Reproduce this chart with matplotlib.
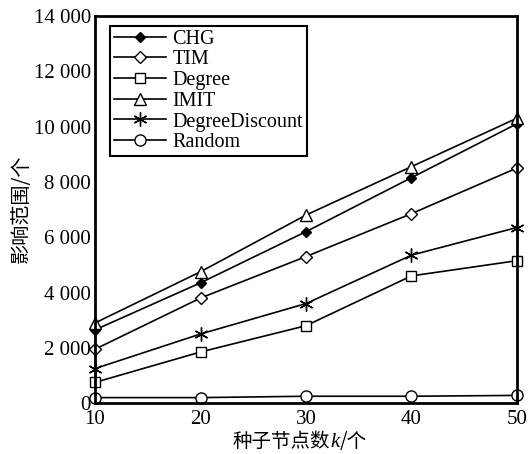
import matplotlib
matplotlib.use('Agg')
from matplotlib import pyplot as plt
from matplotlib.offsetbox import TextArea, HPacker, AnchoredOffsetbox

# data
k_values = [10, 20, 30, 40, 50]
chg = [2650, 4350, 6200, 8150, 10100]
tim = [1950, 3800, 5300, 6850, 8500]
degree = [750, 1850, 2800, 4600, 5150]
imit = [2900, 4750, 6800, 8550, 10300]
degree_discount = [1250, 2500, 3600, 5350, 6350]
random_sel = [200, 200, 250, 250, 280]

y_ticks = [0, 2000, 4000, 6000, 8000, 10000, 12000, 14000]
y_tick_labels = ['0', '2 000', '4 000', '6 000', '8 000', '10 000', '12 000', '14 000']

serif = ['Liberation Serif', 'DejaVu Serif']
cjk = ['Noto Sans CJK SC', 'DejaVu Sans']

fig = plt.figure(figsize=(5.28, 4.54), dpi=100)
ax = fig.add_axes([0.18, 0.112, 0.799, 0.853])

series = [
    ('CHG', chg, dict(marker='D', markersize=5, markerfacecolor='black')),
    ('TIM', tim, dict(marker='D', markersize=6, markerfacecolor='white')),
    ('Degree', degree, dict(marker='s', markersize=7, markerfacecolor='white')),
    ('IMIT', imit, dict(marker='^', markersize=9, markerfacecolor='white')),
    ('DegreeDiscount', degree_discount, dict(marker=(6, 2, 0), markersize=10)),
    ('Random', random_sel, dict(marker='o', markersize=8, markerfacecolor='white')),
]
for name, vals, style in series:
    ax.plot(k_values, vals, color='black', linewidth=1.2, markeredgecolor='black',
            markeredgewidth=1.0, label=name, clip_on=False, **style)

ax.set_xlim(10, 50)
ax.set_ylim(0, 14000)
ax.set_xticks(k_values)
ax.set_xticklabels([str(v) for v in k_values], fontfamily=serif, fontsize=15)
ax.set_yticks(y_ticks)
ax.set_yticklabels(y_tick_labels, fontfamily=serif, fontsize=15)
ax.tick_params(length=0)
ax.tick_params(axis='x', pad=5)
ax.tick_params(axis='y', pad=3)
for sp in ax.spines.values():
    sp.set_linewidth(2)

leg = ax.legend(loc='upper left', bbox_to_anchor=(0.035, 0.975), prop={'family': serif, 'size': 14.5},
                frameon=True, fancybox=False, edgecolor='black', framealpha=1,
                handlelength=2.6, handletextpad=0.3, labelspacing=0.08, borderpad=0.2,
                borderaxespad=0)
leg.get_frame().set_linewidth(1.5)

# x label with italic k
parts = [
    TextArea('种子节点数', textprops=dict(family=cjk, size=14)),
    TextArea('k', textprops=dict(family=serif, size=15, style='italic')),
    TextArea('/个', textprops=dict(family=cjk, size=14)),
]
box = HPacker(children=parts, align='baseline', pad=0, sep=0)
anchored = AnchoredOffsetbox(loc='center', child=box, frameon=False,
                             bbox_to_anchor=(0.568, 0.027), bbox_transform=fig.transFigure,
                             borderpad=0, pad=0)
fig.add_artist(anchored)

fig.text(0.04, 0.54, '影响范围/个', rotation=90, ha='center', va='center',
         family=cjk, fontsize=14.5)

fig.savefig('out.png', dpi=100)
